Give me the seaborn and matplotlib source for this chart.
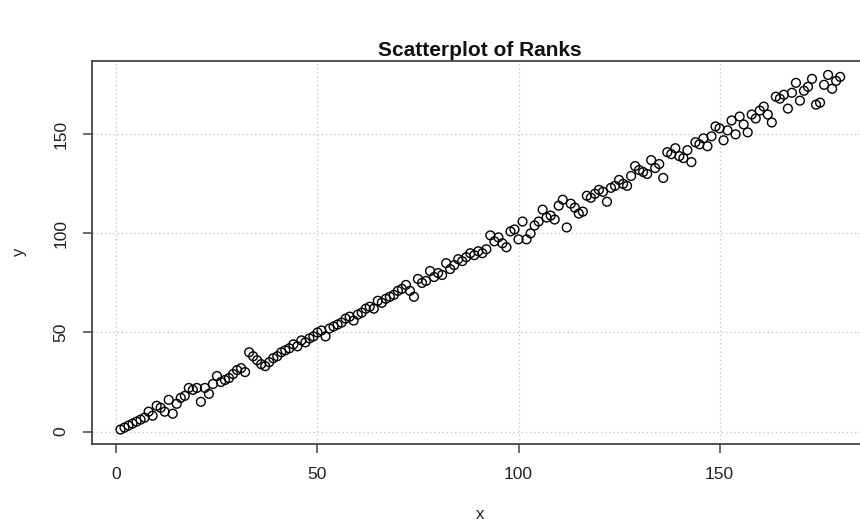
import numpy as np
import pandas as pd
import matplotlib
matplotlib.use("Agg")
import matplotlib.pyplot as plt
import seaborn as sns

# Ranks of the two variables (x rank -> y rank)
rank_x = [
    1, 2, 3, 4, 5, 6, 7, 8, 9, 10,
    11, 12, 13, 14, 15, 16, 17, 18, 19, 20,
    21, 22, 23, 24, 25, 26, 27, 28, 29, 30,
    31, 32, 33, 34, 35, 36, 37, 38, 39, 40,
    41, 42, 43, 44, 45, 46, 47, 48, 49, 50,
    51, 52, 53, 54, 55, 56, 57, 58, 59, 60,
    61, 62, 63, 64, 65, 66, 67, 68, 69, 70,
    71, 72, 73, 74, 75, 76, 77, 78, 79, 80,
    81, 82, 83, 84, 85, 86, 87, 88, 89, 90,
    91, 92, 93, 94, 95, 96, 97, 98, 99, 100,
    101, 102, 103, 104, 105, 106, 107, 108, 109, 110,
    111, 112, 113, 114, 115, 116, 117, 118, 119, 120,
    121, 122, 123, 124, 125, 126, 127, 128, 129, 130,
    131, 132, 133, 134, 135, 136, 137, 138, 139, 140,
    141, 142, 143, 144, 145, 146, 147, 148, 149, 150,
    151, 152, 153, 154, 155, 156, 157, 158, 159, 160,
    161, 162, 163, 164, 165, 166, 167, 168, 169, 170,
    171, 172, 173, 174, 175, 176, 177, 178, 179, 180,
]
rank_y = [
    1, 2, 3, 4, 5, 6, 7, 10, 8, 13,
    12, 10, 16, 9, 14, 17, 18, 22, 21, 22,
    15, 22, 19, 24, 28, 25, 26, 27, 29, 31,
    32, 30, 40, 38, 36, 34, 33, 35, 37, 38,
    40, 41, 42, 44, 43, 46, 45, 47, 48, 50,
    51, 48, 52, 53, 54, 55, 57, 58, 56, 59,
    60, 62, 63, 62, 66, 65, 67, 68, 69, 71,
    72, 74, 71, 68, 77, 75, 76, 81, 78, 80,
    79, 85, 82, 84, 87, 86, 88, 90, 89, 91,
    90, 92, 99, 96, 98, 95, 93, 101, 102, 97,
    106, 97, 100, 104, 106, 112, 108, 109, 107, 114,
    117, 103, 115, 113, 110, 111, 119, 118, 120, 122,
    121, 116, 123, 124, 127, 125, 124, 129, 134, 132,
    131, 130, 137, 133, 135, 128, 141, 140, 143, 139,
    138, 142, 136, 146, 145, 148, 144, 149, 154, 153,
    147, 152, 157, 150, 159, 155, 151, 160, 158, 162,
    164, 160, 156, 169, 168, 170, 163, 171, 176, 167,
    172, 174, 178, 165, 166, 175, 180, 173, 177, 179,
]
x_ticks = [0, 50, 100, 150]
y_ticks = [0, 50, 100, 150]
chart_title = "Scatterplot of Ranks"

sns.set_theme(style="white")
plt.rcParams["font.family"] = ["Liberation Sans", "DejaVu Sans"]

df = pd.DataFrame({"x": rank_x, "y": rank_y})

fig = plt.figure(figsize=(8.6, 5.24), dpi=100)
# plotting region runs past the right edge of the canvas
ax = fig.add_axes([0.1066, 0.1532, 0.9038, 0.7309])

sns.scatterplot(
    data=df, x="x", y="y", ax=ax,
    marker="o", s=40, facecolor="none", edgecolor="black",
    linewidth=1.0, zorder=3,
)

ax.set_xlim(-6.16, 187.16)
ax.set_ylim(-6.16, 187.16)
ax.set_xticks(x_ticks)
ax.set_yticks(y_ticks)
ax.set_xticklabels([str(t) for t in x_ticks])
ax.set_yticklabels([str(t) for t in y_ticks], rotation=90, va="center")

ax.grid(True, color="#c8c8c8", linestyle=(0, (1, 2)), linewidth=1.0)
ax.set_axisbelow(True)

for sp in ax.spines.values():
    sp.set_color("#444444")
    sp.set_linewidth(1.3)

ax.tick_params(direction="out", length=6.5, width=1.1, color="#444444",
               labelsize=12.5, pad=10, labelcolor="#222222")
ax.tick_params(axis="x", bottom=True)
ax.tick_params(axis="y", left=True)

ax.set_xlabel("x", fontsize=12, labelpad=18.5, color="#222222")
ax.set_ylabel("y", fontsize=12, labelpad=19.5, color="#222222")
ax.set_title(chart_title, fontsize=15, fontweight="bold", pad=3.5, color="#111111")

fig.savefig("out.png", dpi=100)
